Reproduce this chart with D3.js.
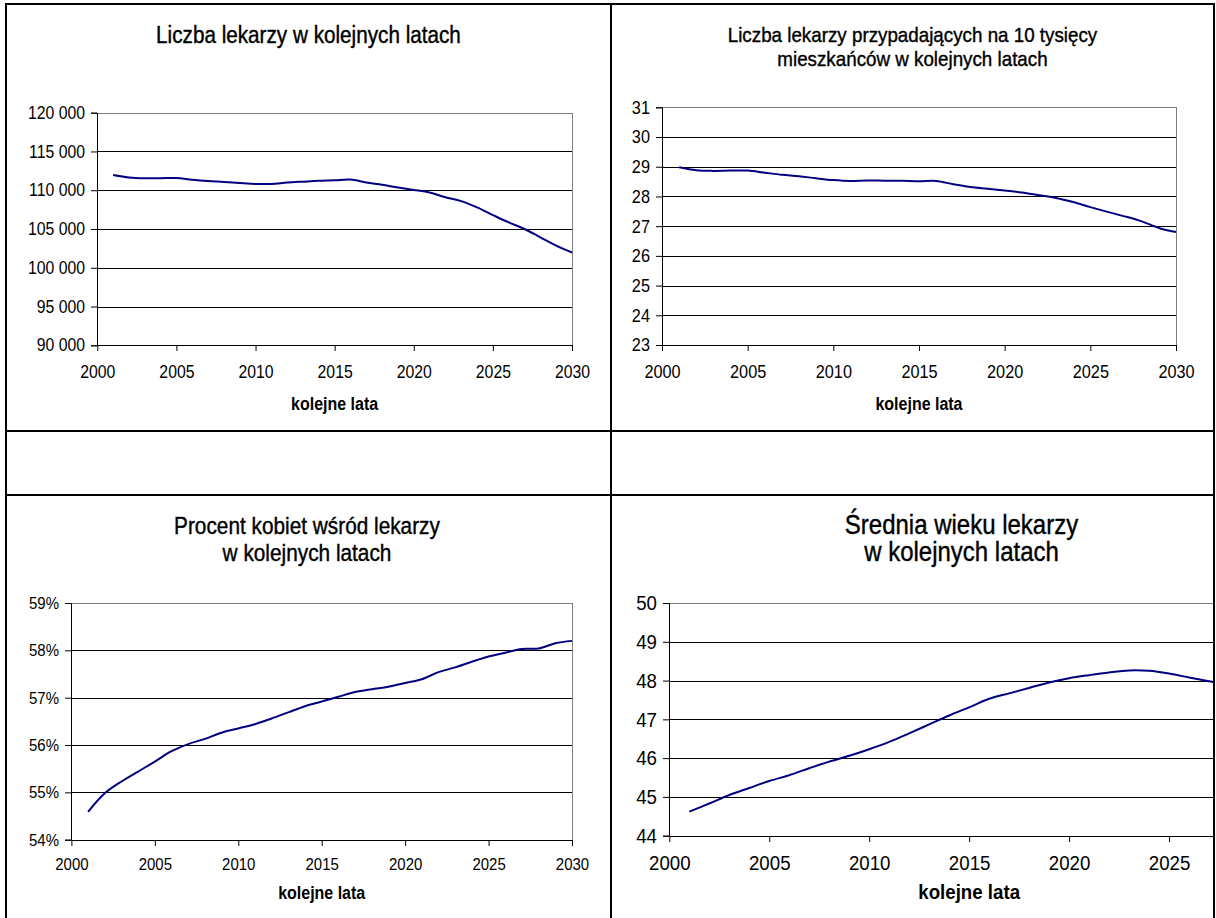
<!DOCTYPE html>
<html>
<head>
<meta charset="utf-8">
<script src="https://cdn.jsdelivr.net/npm/d3@7"></script>
<style>
  html, body { margin: 0; padding: 0; background: #fff; }
  svg { display: block; }
  text { font-family: "Liberation Sans", Arial, sans-serif; fill: #000; }
</style>
</head>
<body>
<svg id="sheet" width="1216" height="918"></svg>
<script>
// ---- data -------------------------------------------------------------
const years = [2001, 2002, 2003, 2004, 2005, 2006, 2007, 2008, 2009, 2010,
               2011, 2012, 2013, 2014, 2015, 2016, 2017, 2018, 2019, 2020,
               2021, 2022, 2023, 2024, 2025, 2026, 2027, 2028, 2029, 2030];

// number of doctors
const doctorsCount = [111970, 111650, 111540, 111560, 111580, 111350, 111180, 111070, 110930, 110810,
                      110810, 110990, 111110, 111220, 111280, 111370, 111000, 110700, 110350, 110040,
                      109700, 109100, 108590, 107780, 106800, 105850, 105000, 103930, 102860, 101970];

// doctors per 10 000 inhabitants
const doctorsPer10k = [28.98, 28.88, 28.86, 28.87, 28.87, 28.80, 28.73, 28.68, 28.61, 28.55,
                       28.52, 28.54, 28.53, 28.53, 28.51, 28.52, 28.41, 28.32, 28.26, 28.20,
                       28.13, 28.04, 27.95, 27.81, 27.64, 27.48, 27.33, 27.16, 26.94, 26.80];

// share of women among doctors, in percent
const femaleShare = [54.59, 54.98, 55.23, 55.44, 55.65, 55.87, 56.02, 56.13, 56.26, 56.35,
                     56.44, 56.56, 56.69, 56.82, 56.92, 57.02, 57.12, 57.18, 57.23, 57.31,
                     57.39, 57.54, 57.64, 57.76, 57.87, 57.95, 58.03, 58.04, 58.15, 58.20];

// mean age of doctors
const meanAge = [44.62, 44.83, 45.05, 45.23, 45.41, 45.56, 45.74, 45.91, 46.06, 46.23,
                 46.42, 46.64, 46.87, 47.10, 47.31, 47.53, 47.67, 47.81, 47.95, 48.06,
                 48.14, 48.21, 48.26, 48.25, 48.18, 48.08, 47.98, 47.90, 47.80, 47.70];

// axis ticks
const yearTicks = [2000, 2005, 2010, 2015, 2020, 2025, 2030];
const countTicks = [90000, 95000, 100000, 105000, 110000, 115000, 120000];
const per10kTicks = [23, 24, 25, 26, 27, 28, 29, 30, 31];
const shareTicks = [54, 55, 56, 57, 58, 59];
const ageTicks = [44, 45, 46, 47, 48, 49, 50];

const axisTitle = "kolejne lata";

// ---- layout -----------------------------------------------------------
const svg = d3.select("#sheet");
svg.append("rect").attr("width", 1216).attr("height", 918).attr("fill", "#fff");

// glyphs are drawn slightly taller than wide
const STRETCH = 1.12;
const stretchAt = y => `matrix(1,0,0,${STRETCH},0,${(y * (1 - STRETCH)).toFixed(2)})`;

const spaceThousands = v => d3.format(",")(v).replace(/,/g, " ");

const charts = [
  {
    id: "c1", values: doctorsCount, yTicks: countTicks, yFmt: spaceThousands,
    title: ["Liczba lekarzy w kolejnych latach"], titleX: 308.5, titleY: [43.5], titleSize: 20.7,
    plot: { x0: 97.3, x1: 572, y0: 112.7, y1: 345.3 },
    tickSize: 15.8, axisTitleSize: 16, xLabelY: 378, axisTitleY: 410,
    panel: { x0: 7, x1: 610, y0: 5, y1: 430 }
  },
  {
    id: "c2", values: doctorsPer10k, yTicks: per10kTicks, yFmt: d3.format("d"),
    title: ["Liczba lekarzy przypadających na 10 tysięcy", "mieszkańców w kolejnych latach"],
    titleX: 912.5, titleY: [41.7, 66], titleSize: 18.8,
    plot: { x0: 662, x1: 1176, y0: 107.3, y1: 345 },
    tickSize: 16.3, axisTitleSize: 16, xLabelY: 378, axisTitleY: 410,
    panel: { x0: 612, x1: 1213, y0: 5, y1: 430 }
  },
  {
    id: "c3", values: femaleShare, yTicks: shareTicks, yFmt: v => v + "%",
    title: ["Procent kobiet wśród lekarzy", "w kolejnych latach"],
    titleX: 307, titleY: [534, 560.7], titleSize: 20.8,
    plot: { x0: 71.4, x1: 572, y0: 603, y1: 839.7 },
    tickSize: 15, axisTitleSize: 16, xLabelY: 870.5, axisTitleY: 899,
    panel: { x0: 7, x1: 610, y0: 496, y1: 918 }
  },
  {
    id: "c4", values: meanAge, yTicks: ageTicks, yFmt: d3.format("d"),
    title: ["Średnia wieku lekarzy", "w kolejnych latach"],
    titleX: 961.5, titleY: [534, 560.7], titleSize: 24,
    plot: { x0: 669.3, x1: 1269, y0: 603, y1: 835.7 },
    tickSize: 18.7, axisTitleSize: 18.7, xLabelY: 870, axisTitleY: 899.5,
    panel: { x0: 612, x1: 1213, y0: 496, y1: 918 }
  }
];

charts.forEach(c => {
  const clipId = "clip-" + c.id;
  svg.append("clipPath").attr("id", clipId)
    .append("rect")
    .attr("x", c.panel.x0).attr("y", c.panel.y0)
    .attr("width", c.panel.x1 - c.panel.x0).attr("height", c.panel.y1 - c.panel.y0);

  const g = svg.append("g").attr("clip-path", `url(#${clipId})`);

  const x = d3.scaleLinear().domain([2000, 2030]).range([c.plot.x0, c.plot.x1]);
  const y = d3.scaleLinear().domain(d3.extent(c.yTicks)).range([c.plot.y1, c.plot.y0]);

  // title, one text per line
  c.title.forEach((line, i) => {
    g.append("text")
      .attr("x", c.titleX).attr("y", c.titleY[i])
      .attr("transform", stretchAt(c.titleY[i]))
      .attr("text-anchor", "middle")
      .style("font-size", c.titleSize + "px")
      .attr("stroke", "#000").attr("stroke-width", 0.35)
      .text(line);
  });

  // plot area frame (grey)
  g.append("rect")
    .attr("x", Math.round(c.plot.x0) + 0.5).attr("y", Math.round(c.plot.y0) + 0.5)
    .attr("width", Math.round(c.plot.x1) - Math.round(c.plot.x0))
    .attr("height", Math.round(c.plot.y1) - Math.round(c.plot.y0))
    .attr("fill", "none").attr("stroke", "#808080").attr("stroke-width", 1);

  // horizontal gridlines
  g.append("g").selectAll("line")
    .data(c.yTicks.slice(1, -1))
    .join("line")
    .attr("x1", c.plot.x0).attr("x2", c.plot.x1)
    .attr("y1", d => Math.round(y(d)) + 0.5).attr("y2", d => Math.round(y(d)) + 0.5)
    .attr("stroke", "#000").attr("stroke-width", 1);

  // y axis
  const yAxis = d3.axisLeft(y).tickValues(c.yTicks).tickFormat(c.yFmt)
    .tickSize(6).tickPadding(6).offset(0.5);
  const ya = g.append("g")
    .attr("transform", `translate(${Math.round(c.plot.x0)},0)`)
    .call(yAxis);
  ya.attr("font-family", null).attr("font-size", null);
  ya.selectAll("line, path").attr("stroke", "#000");
  ya.selectAll("text")
    .style("font-size", c.tickSize + "px").attr("fill", "#000")
    .attr("transform", stretchAt(0));

  // x axis: only ticks that fall inside the panel
  const xAxis = d3.axisBottom(x)
    .tickValues(yearTicks.filter(d => x(d) <= c.panel.x1))
    .tickFormat(d3.format("d"))
    .tickSize(6).tickSizeOuter(0).tickPadding(0).offset(0.5);
  const xa = g.append("g")
    .attr("transform", `translate(0,${Math.round(c.plot.y1)})`)
    .call(xAxis);
  xa.attr("font-family", null).attr("font-size", null);
  xa.selectAll("line, path").attr("stroke", "#000");
  const labelOffset = c.xLabelY - Math.round(c.plot.y1);
  xa.selectAll("text")
    .style("font-size", c.tickSize + "px").attr("fill", "#000")
    .attr("dy", null)
    .attr("y", labelOffset)
    .attr("transform", stretchAt(labelOffset));

  // axis title
  g.append("text")
    .attr("x", (c.plot.x0 + c.plot.x1) / 2)
    .attr("y", c.axisTitleY)
    .attr("transform", stretchAt(c.axisTitleY))
    .attr("text-anchor", "middle")
    .style("font-size", c.axisTitleSize + "px")
    .style("font-weight", "bold")
    .text(axisTitle);

  // series line
  const line = d3.line()
    .x((d, i) => x(years[i]))
    .y(d => y(d))
    .curve(d3.curveCatmullRom.alpha(0.5));
  g.append("path")
    .datum(c.values)
    .attr("d", line)
    .attr("fill", "none")
    .attr("stroke", "#000080")
    .attr("stroke-width", 2);
});

// table borders around the four panels
const borders = svg.append("g").attr("stroke", "#000").attr("stroke-width", 2)
  .attr("shape-rendering", "crispEdges");
const vLines = [6, 611, 1214];
const hLines = [4, 431, 495];
vLines.forEach(xv => borders.append("line").attr("x1", xv).attr("x2", xv).attr("y1", 3).attr("y2", 918));
hLines.forEach(yv => borders.append("line").attr("x1", 5).attr("x2", 1215).attr("y1", yv).attr("y2", yv));
</script>
</body>
</html>
